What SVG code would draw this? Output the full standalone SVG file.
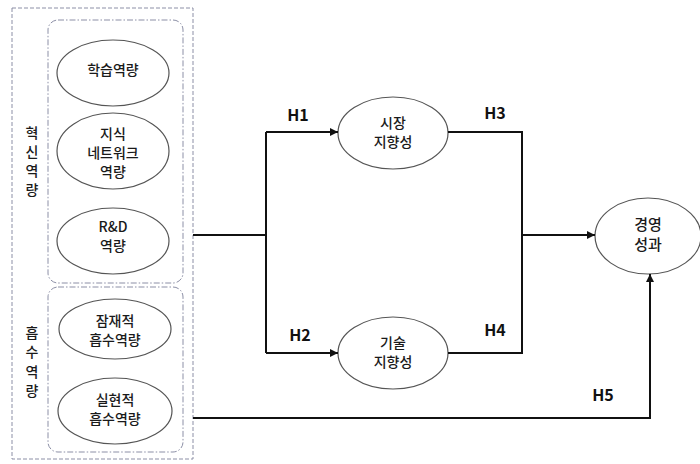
<svg xmlns="http://www.w3.org/2000/svg" width="700" height="464" viewBox="0 0 700 464">
<style>
.grp{fill:none;stroke:#8c8fa6;stroke-width:1}
.outer{stroke-dasharray:4 2}
.inner{stroke-dasharray:6 2 1.5 2}
.node{fill:#fff;stroke:#555;stroke-width:1.2}
.t{font-family:"Noto Sans CJK KR","Noto Sans",sans-serif;font-size:14px;font-weight:500;fill:#1a1a1a;text-anchor:middle}
.tl{font-size:15px}
.h{font-family:"Noto Sans CJK KR","Liberation Sans",sans-serif;font-size:16px;font-weight:bold;fill:#111;text-anchor:middle}
.c{fill:none;stroke:#111;stroke-width:2}
</style>
<defs>
<marker id="arr" viewBox="0 0 10 10" refX="10" refY="5" markerWidth="8" markerHeight="8" markerUnits="userSpaceOnUse" orient="auto">
<path d="M0,0 L10,5 L0,10 z" fill="#111"/>
</marker>
</defs>
<g id="groups">
<rect class="grp outer" x="12" y="8" width="181" height="451"/>
<rect class="grp inner" x="48" y="20" width="135" height="263" rx="10"/>
<rect class="grp inner" x="48" y="287" width="135" height="165" rx="10"/>
<text class="t" x="32" y="138">혁</text>
<text class="t" x="32" y="157">신</text>
<text class="t" x="32" y="176">역</text>
<text class="t" x="32" y="195">량</text>
<text class="t" x="32" y="338">흡</text>
<text class="t" x="32" y="357">수</text>
<text class="t" x="32" y="377">역</text>
<text class="t" x="32" y="396">량</text>
</g>
<g id="n1"><ellipse class="node" cx="113" cy="73" rx="56" ry="33"/><text class="t" x="113" y="75">학습역량</text></g>
<g id="n2"><ellipse class="node" cx="113" cy="151" rx="56" ry="38"/><text class="t" x="113" y="139">지식</text><text class="t" x="113" y="158">네트워크</text><text class="t" x="113" y="177">역량</text></g>
<g id="n3"><ellipse class="node" cx="113" cy="241" rx="56" ry="33"/><text class="t" x="113" y="232">R&amp;D</text><text class="t" x="113" y="251">역량</text></g>
<g id="n4"><ellipse class="node" cx="115" cy="329" rx="56" ry="30"/><text class="t" x="115" y="326">잠재적</text><text class="t" x="115" y="345">흡수역량</text></g>
<g id="n5"><ellipse class="node" cx="115" cy="411" rx="57" ry="33"/><text class="t" x="115" y="405">실현적</text><text class="t" x="115" y="424">흡수역량</text></g>
<g id="n6"><ellipse class="node" cx="393" cy="133" rx="55" ry="36"/><text class="t" x="393" y="128">시장</text><text class="t" x="393" y="147">지향성</text></g>
<g id="n7"><ellipse class="node" cx="393" cy="353" rx="55" ry="36"/><text class="t" x="393" y="348">기술</text><text class="t" x="393" y="367">지향성</text></g>
<g id="n8"><ellipse class="node" cx="648" cy="236" rx="53" ry="38"/><text class="t tl" x="648" y="230">경영</text><text class="t tl" x="648" y="250">성과</text></g>
<g id="connectors">
<path class="c" d="M193,235 H266"/>
<path class="c" d="M266,132 V353"/>
<path class="c" d="M266,132 H338" marker-end="url(#arr)"/>
<path class="c" d="M266,353 H338" marker-end="url(#arr)"/>
<path class="c" d="M448,132 H522 V353 H448"/>
<path class="c" d="M522,235 H595" marker-end="url(#arr)"/>
<path class="c" d="M193,418 H650 V274" marker-end="url(#arr)"/>
<text class="h" x="298" y="121">H1</text>
<text class="h" x="300" y="341">H2</text>
<text class="h" x="495" y="119">H3</text>
<text class="h" x="495" y="336">H4</text>
<text class="h" x="603" y="401">H5</text>
</g>
</svg>
